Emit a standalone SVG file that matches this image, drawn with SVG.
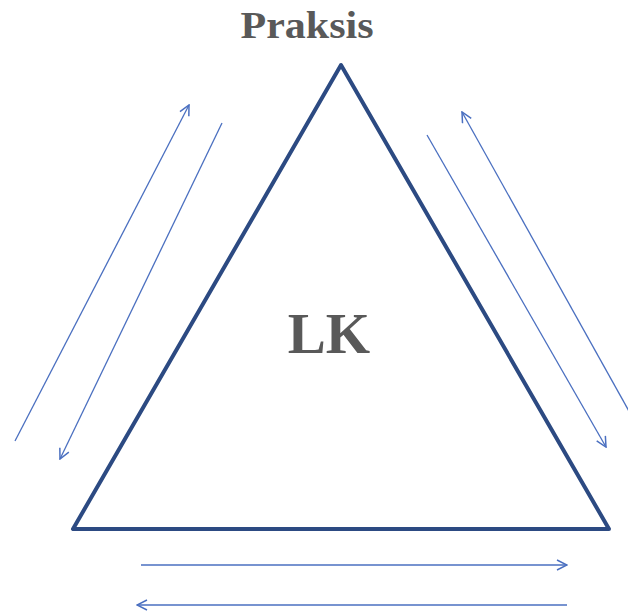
<svg xmlns="http://www.w3.org/2000/svg" width="628" height="615" viewBox="0 0 628 615">
<style>
.lbl{font-family:"Liberation Serif","Times New Roman",serif;font-weight:bold;fill:#595959}
.conn{stroke:#4a6fc0;stroke-width:1.3;fill:none;marker-end:url(#ah)}
</style>
<defs>
<marker id="ah" viewBox="0 0 12 12" refX="11" refY="6" markerWidth="12" markerHeight="12" markerUnits="userSpaceOnUse" orient="auto">
<path d="M1,1 L11,6 L1,11" fill="none" stroke="#4a6fc0" stroke-width="1.5"/>
</marker>
</defs>
<rect width="628" height="615" fill="#fff"/>
<g id="triangle">
<polygon points="341,65 73,529 609,529" fill="none" stroke="#2c4a82" stroke-width="4" stroke-linejoin="round"/>
</g>
<g id="praksis">
<text class="lbl" x="307" y="38" font-size="38" text-anchor="middle" textLength="133" lengthAdjust="spacingAndGlyphs">Praksis</text>
</g>
<g id="lk">
<text class="lbl" x="329" y="353" font-size="57" text-anchor="middle">LK</text>
</g>
<g id="connectors">
<line class="conn" x1="15" y1="441" x2="189" y2="105"/>
<line class="conn" x1="222" y1="123" x2="60" y2="459"/>
<line class="conn" x1="427" y1="135" x2="606" y2="447"/>
<line class="conn" x1="630" y1="413" x2="462" y2="112"/>
<line class="conn" x1="141" y1="565" x2="567" y2="565"/>
<line class="conn" x1="567" y1="605" x2="137" y2="605"/>
</g>
</svg>
